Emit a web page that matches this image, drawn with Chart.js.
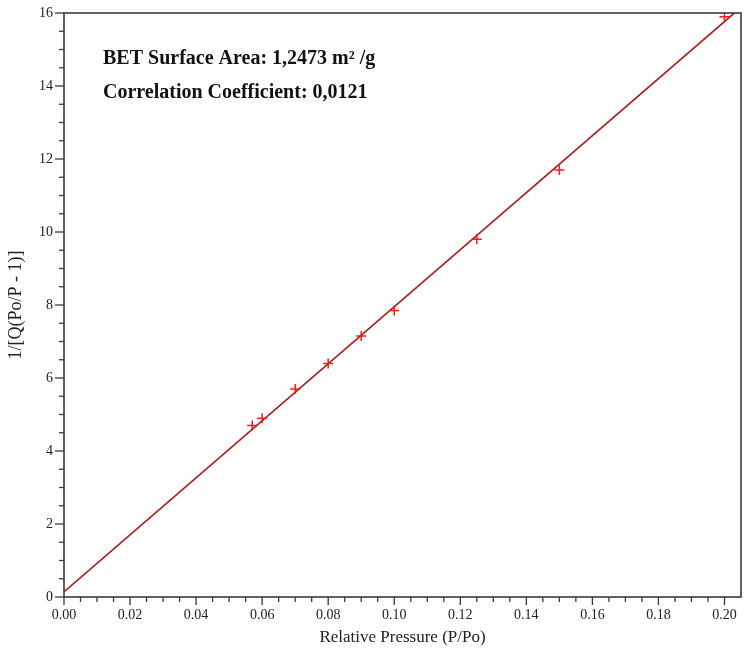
<!DOCTYPE html>
<html>
<head>
<meta charset="utf-8">
<script src="https://cdn.jsdelivr.net/npm/chart.js@4.4.1/dist/chart.umd.min.js"></script>
<style>
html,body{margin:0;padding:0;background:#fff;}
#wrap{width:744px;height:653px;position:relative;}
</style>
</head>
<body>
<div id="wrap"><canvas id="c" width="744" height="653"></canvas></div>
<script>
// Measured BET points
const pressureX = [0.057, 0.060, 0.070, 0.080, 0.090, 0.100, 0.125, 0.150, 0.200];
const betY = [4.70, 4.90, 5.70, 6.40, 7.15, 7.85, 9.80, 11.70, 15.90];
// Fitted line endpoints
const fitX = [0.0, 0.203];
const fitY = [0.14, 16.0];
// Axis ticks
const xTickLabels = [0.00, 0.02, 0.04, 0.06, 0.08, 0.10, 0.12, 0.14, 0.16, 0.18, 0.20];
const yTickLabels = [0, 2, 4, 6, 8, 10, 12, 14, 16];
const annotationLines = ['BET Surface Area: 1,2473 m\u00B2 /g', 'Correlation Coefficient: 0,0121'];

const SERIF = '"Liberation Serif", "Times New Roman", serif';

const framePlugin = {
  id: 'frame',
  afterDraw(chart) {
    const ctx = chart.ctx, a = chart.chartArea;
    const xs = chart.scales.x, ys = chart.scales.y;
    ctx.save();
    ctx.strokeStyle = '#3a3a3a';
    ctx.lineWidth = 1.6;
    ctx.strokeRect(a.left, a.top, a.right - a.left, a.bottom - a.top);
    ctx.lineWidth = 1.3;
    for (let i = 0; i <= 40; i++) {
      const px = xs.getPixelForValue(i * 0.005);
      const major = i % 4 === 0;
      ctx.beginPath();
      ctx.moveTo(px, a.bottom);
      ctx.lineTo(px, a.bottom + (major ? 8 : 5));
      ctx.stroke();
    }
    for (let i = 0; i <= 32; i++) {
      const py = ys.getPixelForValue(i * 0.5);
      const major = i % 4 === 0;
      ctx.beginPath();
      ctx.moveTo(a.left, py);
      ctx.lineTo(a.left - (major ? 9 : 5), py);
      ctx.stroke();
    }
    ctx.fillStyle = '#111';
    ctx.font = 'bold 20px ' + SERIF;
    ctx.textBaseline = 'alphabetic';
    ctx.fillText(annotationLines[0], a.left + 39, a.top + 51);
    ctx.fillText(annotationLines[1], a.left + 39, a.top + 85);
    ctx.restore();
  }
};

new Chart(document.getElementById('c'), {
  type: 'scatter',
  data: {
    datasets: [
      {
        type: 'line',
        label: 'fit',
        data: fitX.map((x, i) => ({x: x, y: fitY[i]})),
        borderColor: '#a3292b',
        borderWidth: 1.7,
        pointRadius: 0,
        fill: false,
        order: 2
      },
      {
        label: 'BET',
        data: pressureX.map((x, i) => ({x: x, y: betY[i]})),
        pointStyle: 'cross',
        pointRadius: 5,
        borderColor: '#f41c1c',
        backgroundColor: '#f41c1c',
        borderWidth: 1.5,
        order: 1
      }
    ]
  },
  options: {
    responsive: false,
    animation: false,
    layout: {autoPadding: false, padding: {left: 0, right: 3, top: 13, bottom: 0}},
    plugins: {legend: {display: false}, tooltip: {enabled: false}},
    scales: {
      x: {
        type: 'linear',
        min: 0,
        max: 0.205,
        afterBuildTicks: s => { s.ticks = xTickLabels.map(v => ({value: v})); },
        afterFit: s => { s.height = 56; s.paddingRight = 0; },
        ticks: {
          callback: v => Number(v).toFixed(2),
          font: {family: SERIF, size: 14},
          color: '#222',
          padding: 2,
          maxRotation: 0,
          autoSkip: false
        },
        grid: {display: false, drawTicks: true, tickLength: 8},
        border: {display: false},
        title: {
          display: true,
          text: 'Relative Pressure (P/Po)',
          font: {family: SERIF, size: 17},
          color: '#222',
          padding: {top: 0, bottom: 5}
        }
      },
      y: {
        type: 'linear',
        min: 0,
        max: 16,
        afterBuildTicks: s => { s.ticks = yTickLabels.map(v => ({value: v})); },
        afterFit: s => { s.width = 64; },
        ticks: {
          callback: v => String(v),
          font: {family: SERIF, size: 14},
          color: '#222',
          padding: 3,
          autoSkip: false
        },
        grid: {display: false, drawTicks: true, tickLength: 8},
        border: {display: false},
        title: {
          display: true,
          text: '1/[Q(Po/P - 1)]',
          font: {family: SERIF, size: 18},
          color: '#222',
          padding: {top: 5, bottom: 0}
        }
      }
    }
  },
  plugins: [framePlugin]
});
</script>
</body>
</html>
